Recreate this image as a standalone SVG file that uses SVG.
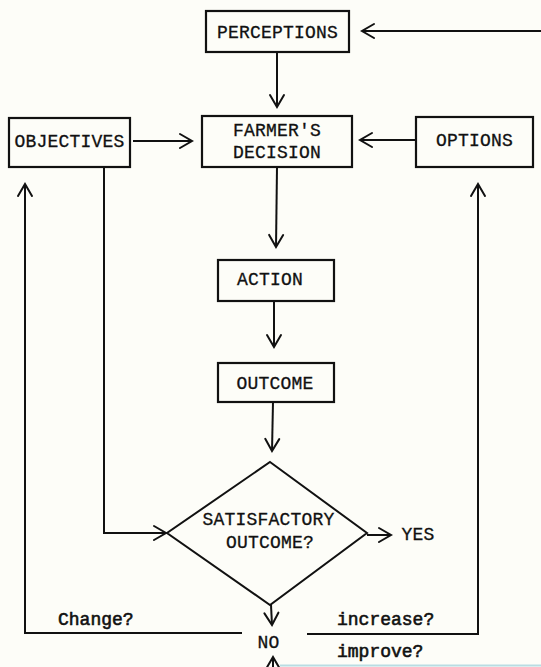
<svg xmlns="http://www.w3.org/2000/svg" width="541" height="667" viewBox="0 0 541 667">
<style>
.box{fill:none;stroke:#111;stroke-width:2.2}
.ln{fill:none;stroke:#111;stroke-width:2}
.t{font-family:"Liberation Mono","Courier New",monospace;font-size:18px;letter-spacing:0.2px;fill:#111;stroke:#111;stroke-width:0.3;text-anchor:middle}
.lb{font-family:"Liberation Mono","Courier New",monospace;font-size:18px;letter-spacing:0px;fill:#111;stroke:#111;stroke-width:0.6}
</style>
<defs>
<marker id="ah" viewBox="-2 -2 16 18" refX="12" refY="7" markerWidth="16" markerHeight="18" markerUnits="userSpaceOnUse" orient="auto">
<path d="M0,0 L12,7 L0,14" fill="none" stroke="#111" stroke-width="2" stroke-linecap="round" stroke-linejoin="miter"/>
</marker>
</defs>
<rect width="541" height="667" fill="#fdfdf8"/>
<g id="perceptions"><rect class="box" x="206" y="11" width="143" height="41"/><text class="t" x="277.5" y="38">PERCEPTIONS</text></g>
<g id="objectives"><rect class="box" x="9" y="118" width="121" height="49"/><text class="t" x="69.5" y="147">OBJECTIVES</text></g>
<g id="farmers-decision"><rect class="box" x="202" y="116" width="150" height="51"/><text class="t" x="277" y="136">FARMER'S</text><text class="t" x="277" y="158">DECISION</text></g>
<g id="options"><rect class="box" x="416" y="117" width="117" height="50"/><text class="t" x="474.5" y="146">OPTIONS</text></g>
<g id="action"><rect class="box" x="218" y="260" width="116" height="41"/><text class="t" x="270" y="285">ACTION</text></g>
<g id="outcome"><rect class="box" x="218" y="363" width="116" height="39"/><text class="t" x="275" y="389">OUTCOME</text></g>
<g id="satisfactory"><path class="ln" d="M270,462 L367,533 L270,605 L167,533 Z" stroke-width="2.2"/><text class="t" x="268.5" y="525">SATISFACTORY</text><text class="t" x="270" y="548">OUTCOME?</text></g>
<g id="yes"><text class="t" x="418" y="540">YES</text></g>
<g id="no"><text class="t" x="268.5" y="648">NO</text></g>
<g id="connectors">
<line class="ln" x1="541" y1="31" x2="362" y2="31" marker-end="url(#ah)"/>
<line class="ln" x1="277" y1="52" x2="277" y2="107" marker-end="url(#ah)"/>
<line class="ln" x1="133" y1="141" x2="192" y2="141" marker-end="url(#ah)"/>
<line class="ln" x1="416" y1="140" x2="360" y2="140" marker-end="url(#ah)"/>
<line class="ln" x1="277" y1="167" x2="276" y2="247" marker-end="url(#ah)"/>
<line class="ln" x1="274" y1="301" x2="274" y2="347" marker-end="url(#ah)"/>
<line class="ln" x1="273" y1="402" x2="272" y2="451" marker-end="url(#ah)"/>
<polyline class="ln" points="104,167 104,533 166,533" marker-end="url(#ah)"/>
<line class="ln" x1="367" y1="535" x2="391" y2="535" marker-end="url(#ah)"/>
<line class="ln" x1="271" y1="605" x2="272" y2="625" marker-end="url(#ah)"/>
<polyline class="ln" points="242,633 25,633 25,184" marker-end="url(#ah)"/>
<polyline class="ln" points="307,634 478,634 478,184" marker-end="url(#ah)"/>
<line class="ln" x1="273" y1="672" x2="273" y2="657" marker-end="url(#ah)"/>
<line x1="280" y1="665.5" x2="541" y2="665.5" stroke="#b9dde3" stroke-width="2"/>
</g>
<g id="labels">
<text class="lb" x="58" y="625">Change?</text>
<text class="lb" x="337" y="625">increase?</text>
<text class="lb" x="337" y="657">improve?</text>
</g>
</svg>
